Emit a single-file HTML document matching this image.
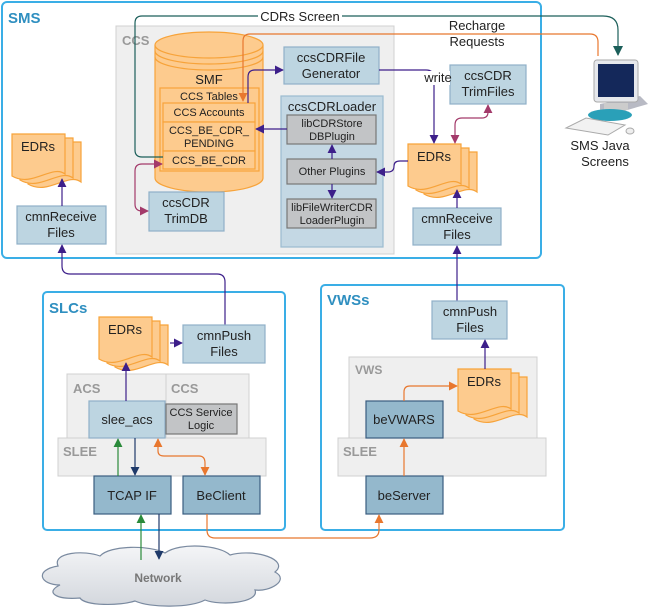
<!DOCTYPE html>
<html><head><meta charset="utf-8"><style>
html,body{margin:0;padding:0;background:#fff}
svg{display:block}
text{font-family:"Liberation Sans",sans-serif;fill:#222}
.b{fill:#bdd5e1;stroke:#8fb0c8;stroke-width:1.2}
.d{fill:#94b8cc;stroke:#3a5d80;stroke-width:1.2}
.g{fill:#c2c4c6;stroke:#777;stroke-width:1.2}
.o{fill:#fdcb8e;stroke:#f7a33a;stroke-width:1.2}
.gr{fill:#efefef;stroke:#d0d0d0}
.t13{font-size:13px;text-anchor:middle}
.t11{font-size:11px;text-anchor:middle}
.lb{font-size:13px;font-weight:bold;fill:#999}
.hd{font-size:15px;font-weight:bold;fill:#2f8fc0}
.nw{font-size:12px;font-weight:bold;text-anchor:middle;fill:#777}
.p{fill:none;stroke:#3d1f8a;stroke-width:1.2}
</style></head><body>
<svg width="649" height="607" viewBox="0 0 649 607" xmlns="http://www.w3.org/2000/svg">
<defs>
<symbol id="edr" overflow="visible">
<path d="M16,8 H69 V48 C56,38 36,62 16,50 Z" class="o"/>
<path d="M8,4 H61 V44 C48,34 28,58 8,46 Z" class="o"/>
<path d="M0,0 H53 V40 C40,30 20,54 0,42 Z" class="o"/>
</symbol>
<marker id="mp" viewBox="0 0 10 10" refX="9" refY="5" markerWidth="9" markerHeight="9" markerUnits="userSpaceOnUse" orient="auto-start-reverse"><path d="M0,0 L10,5 L0,10 Z" fill="#3d1f8a"/></marker>
<marker id="mm" viewBox="0 0 10 10" refX="9" refY="5" markerWidth="9" markerHeight="9" markerUnits="userSpaceOnUse" orient="auto-start-reverse"><path d="M0,0 L10,5 L0,10 Z" fill="#a33a6a"/></marker>
<marker id="mo" viewBox="0 0 10 10" refX="9" refY="5" markerWidth="9" markerHeight="9" markerUnits="userSpaceOnUse" orient="auto-start-reverse"><path d="M0,0 L10,5 L0,10 Z" fill="#e8772e"/></marker>
<marker id="mg" viewBox="0 0 10 10" refX="9" refY="5" markerWidth="9" markerHeight="9" markerUnits="userSpaceOnUse" orient="auto-start-reverse"><path d="M0,0 L10,5 L0,10 Z" fill="#2a8a3a"/></marker>
<marker id="mn" viewBox="0 0 10 10" refX="9" refY="5" markerWidth="9" markerHeight="9" markerUnits="userSpaceOnUse" orient="auto-start-reverse"><path d="M0,0 L10,5 L0,10 Z" fill="#1f3a6a"/></marker>
<marker id="mt" viewBox="0 0 10 10" refX="9" refY="5" markerWidth="10" markerHeight="10" markerUnits="userSpaceOnUse" orient="auto-start-reverse"><path d="M0,0 L10,5 L0,10 Z" fill="#1c5f5a"/></marker>
<linearGradient id="cl" x1="0" y1="0" x2="0" y2="1"><stop offset="0" stop-color="#f4f5f7"/><stop offset="1" stop-color="#d3d7dd"/></linearGradient>
</defs>

<rect x="2" y="2" width="539" height="256" rx="5" fill="#fff" stroke="#3aaee6" stroke-width="2"/>
<text x="8" y="23" class="hd">SMS</text>
<rect x="43" y="292" width="242" height="238" rx="4" fill="#fff" stroke="#3aaee6" stroke-width="2"/>
<text x="49" y="313" class="hd">SLCs</text>
<rect x="321" y="285" width="243" height="245" rx="4" fill="#fff" stroke="#3aaee6" stroke-width="2"/>
<text x="327" y="305" class="hd">VWSs</text>

<rect x="116" y="26" width="278" height="228" class="gr"/>
<text x="122" y="45" class="lb">CCS</text>

<path d="M155,45 V178 A54,14 0 0 0 263,178 V45" class="o"/>
<ellipse cx="209" cy="45" rx="54" ry="13" class="o"/>
<path d="M155,51 A54,13 0 0 0 263,51 M155,57 A54,13 0 0 0 263,57" fill="none" stroke="#f7a33a" stroke-width="1.2"/>
<text x="209" y="84" class="t13">SMF</text>
<rect x="160" y="88" width="99" height="83" fill="none" stroke="#f7a33a" stroke-width="1.2"/>
<text x="209" y="100" class="t11">CCS Tables</text>
<rect x="163" y="103" width="92" height="19" class="o"/>
<text x="209" y="116" class="t11">CCS Accounts</text>
<rect x="163" y="122" width="92" height="29" class="o"/>
<text x="209" y="134" class="t11">CCS_BE_CDR_</text>
<text x="209" y="147" class="t11">PENDING</text>
<rect x="163" y="151" width="92" height="18" class="o"/>
<text x="209" y="164" class="t11">CCS_BE_CDR</text>

<rect x="284" y="47" width="95" height="37" class="b"/>
<text x="331" y="62" class="t13">ccsCDRFile</text><text x="331" y="78" class="t13">Generator</text>
<rect x="281" y="96" width="102" height="151" fill="#c4d8e4" stroke="#9bbbd0" stroke-width="1.2"/>
<text x="332" y="111" class="t13">ccsCDRLoader</text>
<rect x="287" y="115" width="89" height="29" class="g"/>
<text x="332" y="127" class="t11">libCDRStore</text><text x="332" y="140" class="t11">DBPlugin</text>
<rect x="287" y="159" width="89" height="25" class="g"/>
<text x="332" y="175" class="t11">Other Plugins</text>
<rect x="287" y="199" width="89" height="29" class="g"/>
<text x="332" y="211" class="t11">libFileWriterCDR</text><text x="332" y="224" class="t11">LoaderPlugin</text>
<rect x="149" y="192" width="75" height="39" class="b"/>
<text x="186" y="207" class="t13">ccsCDR</text><text x="186" y="223" class="t13">TrimDB</text>
<rect x="450" y="65" width="76" height="39" class="b"/>
<text x="488" y="80" class="t13">ccsCDR</text><text x="488" y="96" class="t13">TrimFiles</text>
<rect x="17" y="206" width="89" height="38" class="b"/>
<text x="61" y="221" class="t13">cmnReceive</text><text x="61" y="237" class="t13">Files</text>
<rect x="413" y="208" width="88" height="37" class="b"/>
<text x="457" y="223" class="t13">cmnReceive</text><text x="457" y="239" class="t13">Files</text>
<use href="#edr" x="12" y="134"/><text x="38" y="151" class="t13">EDRs</text>
<use href="#edr" x="408" y="144"/><text x="434" y="161" class="t13">EDRs</text>

<path d="M600,118 L648,104 L640,96 L600,104 Z" fill="#b8bac4"/>
<rect x="594" y="60" width="44" height="42" rx="3" fill="#e6e8ec" stroke="#aaa"/>
<rect x="598" y="64" width="36" height="33" fill="#14285a"/>
<rect x="604" y="103" width="24" height="7" fill="#ccc"/>
<ellipse cx="610" cy="115" rx="22" ry="6" fill="#2aa0b8"/>
<path d="M566,128 L586,118 L625,125 L608,135 Z" fill="#f2f2f2" stroke="#aaa"/>
<ellipse cx="630" cy="131" rx="4" ry="3" fill="#eee" stroke="#aaa"/>
<text x="600" y="150" class="t13">SMS Java</text><text x="605" y="166" class="t13">Screens</text>

<path d="M163,157 H142 Q135,157 135,150 V23 Q135,16 142,16 H603 Q618,16 618,30 V55" fill="none" stroke="#1c5f5a" stroke-width="1.2" marker-end="url(#mt)"/>
<rect x="258" y="8" width="84" height="16" fill="#fff"/>
<text x="300" y="21" class="t13">CDRs Screen</text>
<path d="M598,56 V42 Q598,34 590,34 H250 Q243,34 243,41 V101" fill="none" stroke="#e8772e" stroke-width="1.2" marker-end="url(#mo)"/>
<text x="477" y="30" class="t13">Recharge</text><text x="477" y="46" class="t13">Requests</text>
<path d="M248,103 V77 Q248,70 255,70 H283" class="p" marker-end="url(#mp)"/>
<path d="M379,70 H426 Q434,70 434,78 V143" class="p" marker-end="url(#mp)"/>
<rect x="424" y="71" width="26" height="14" fill="#fff"/>
<text x="438" y="82" class="t13">write</text>
<path d="M287,129 H256" class="p" marker-end="url(#mp)"/>
<path d="M332,159 V145" class="p" marker-end="url(#mp)"/>
<path d="M332,184 V198" class="p" marker-end="url(#mp)"/>
<path d="M408,161 H400 Q394,161 394,166 Q394,172 388,172 H377" class="p" marker-end="url(#mp)"/>
<path d="M455,143 V125 Q455,118 462,118 H482 Q488,118 488,112 V105" fill="none" stroke="#a33a6a" stroke-width="1.2" marker-start="url(#mm)" marker-end="url(#mm)"/>
<path d="M162,164 H142 Q135,164 135,171 V204 Q135,211 142,211 H148" fill="none" stroke="#a33a6a" stroke-width="1.2" marker-start="url(#mm)" marker-end="url(#mm)"/>
<path d="M62,206 V179" class="p" marker-end="url(#mp)"/>
<path d="M457,208 V190" class="p" marker-end="url(#mp)"/>
<path d="M225,325 V282 Q225,274 217,274 H70 Q62,274 62,266 V245" class="p" marker-end="url(#mp)"/>
<path d="M457,301 V246" class="p" marker-end="url(#mp)"/>

<use href="#edr" x="99" y="317"/><text x="125" y="334" class="t13">EDRs</text>
<rect x="183" y="325" width="82" height="38" class="b"/>
<text x="224" y="340" class="t13">cmnPush</text><text x="224" y="356" class="t13">Files</text>
<rect x="67" y="374" width="182" height="64" class="gr"/>
<line x1="166" y1="374" x2="166" y2="438" stroke="#d0d0d0"/>
<text x="73" y="393" class="lb">ACS</text><text x="171" y="393" class="lb">CCS</text>
<rect x="58" y="438" width="208" height="38" class="gr"/>
<text x="63" y="456" class="lb">SLEE</text>
<rect x="89" y="401" width="76" height="37" class="b"/>
<text x="127" y="424" class="t13">slee_acs</text>
<rect x="166" y="404" width="71" height="30" class="g"/>
<text x="201" y="416" class="t11">CCS Service</text><text x="201" y="429" class="t11">Logic</text>
<rect x="94" y="476" width="77" height="38" class="d"/>
<text x="132" y="500" class="t13">TCAP IF</text>
<rect x="183" y="476" width="77" height="38" class="d"/>
<text x="221" y="500" class="t13">BeClient</text>
<path d="M170,343 H182" class="p" marker-end="url(#mp)"/>
<path d="M126,401 V363" class="p" marker-end="url(#mp)"/>
<path d="M118,476 V439" fill="none" stroke="#2a8a3a" stroke-width="1.2" marker-end="url(#mg)"/>
<path d="M135,438 V475" fill="none" stroke="#1f3a6a" stroke-width="1.2" marker-end="url(#mn)"/>
<path d="M158,439 V451 Q158,456 164,456 H199 Q205,456 205,463 V475" fill="none" stroke="#e8772e" stroke-width="1.2" marker-start="url(#mo)" marker-end="url(#mo)"/>

<rect x="432" y="301" width="75" height="38" class="b"/>
<text x="470" y="316" class="t13">cmnPush</text><text x="470" y="332" class="t13">Files</text>
<rect x="349" y="357" width="188" height="81" class="gr"/>
<text x="355" y="374" class="lb" style="font-size:12px">VWS</text>
<rect x="338" y="438" width="208" height="38" class="gr"/>
<text x="343" y="456" class="lb">SLEE</text>
<use href="#edr" x="458" y="369"/><text x="484" y="386" class="t13">EDRs</text>
<rect x="366" y="401" width="77" height="37" class="d"/>
<text x="404" y="424" class="t13">beVWARS</text>
<rect x="366" y="476" width="77" height="38" class="d"/>
<text x="404" y="500" class="t13">beServer</text>
<path d="M485,369 V340" class="p" marker-end="url(#mp)"/>
<path d="M404,401 V392 Q404,386 410,386 H457" fill="none" stroke="#e8772e" stroke-width="1.2" marker-end="url(#mo)"/>
<path d="M404,476 V439" fill="none" stroke="#e8772e" stroke-width="1.2" marker-end="url(#mo)"/>

<path d="M60,585 C40,585 34,570 58,566 C52,552 85,550 100,556 C110,545 150,545 165,553 C180,542 220,545 230,555 C255,548 290,560 275,572 C290,580 270,592 255,590 C260,603 220,606 205,600 C190,608 150,608 135,601 C120,606 85,606 80,598 C55,600 45,592 60,585 Z" fill="url(#cl)" stroke="#7a8aa0" stroke-width="1.2"/>
<text x="158" y="582" class="nw">Network</text>
<path d="M141,560 V515" fill="none" stroke="#2a8a3a" stroke-width="1.2" marker-end="url(#mg)"/>
<path d="M159,514 V559" fill="none" stroke="#1f3a6a" stroke-width="1.2" marker-end="url(#mn)"/>
<path d="M207,514 V530 Q207,538 215,538 H370 Q379,538 379,530 V515" fill="none" stroke="#e8772e" stroke-width="1.2" marker-end="url(#mo)"/>
</svg>
</body></html>
